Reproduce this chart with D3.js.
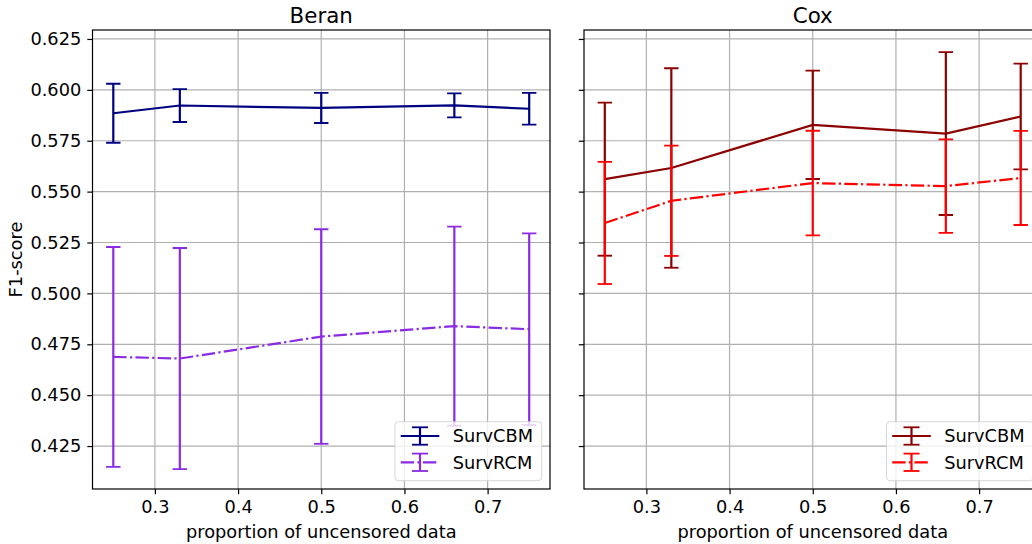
<!DOCTYPE html>
<html><head><meta charset="utf-8">
<script src="https://cdn.jsdelivr.net/npm/d3@7"></script>
<style>body{margin:0;background:#fff}svg{display:block;font-family:"DejaVu Sans",sans-serif}</style>
</head><body><svg id="c" width="1032" height="544"></svg>
<script>
// ---- data ----
const proportions = [0.25, 0.33, 0.5, 0.66, 0.75];
const beranCBM    = [0.5885, 0.5923, 0.5911, 0.5924, 0.5907];
const beranCBMErr = [0.0145, 0.0081, 0.0074, 0.0059, 0.0078];
const beranRCM    = [0.4688, 0.4680, 0.4788, 0.4839, 0.4824];
const beranRCMErr = [0.0540, 0.0543, 0.0527, 0.0489, 0.0471];
const coxCBM      = [0.5561, 0.5616, 0.5828, 0.5785, 0.5869];
const coxCBMErr   = [0.0376, 0.0490, 0.0266, 0.0400, 0.0260];
const coxRCM      = [0.5346, 0.5455, 0.5542, 0.5527, 0.5567];
const coxRCMErr   = [0.0300, 0.0271, 0.0257, 0.0230, 0.0231];
const xTicks = [0.3, 0.4, 0.5, 0.6, 0.7];
const yTicks = [0.425, 0.450, 0.475, 0.500, 0.525, 0.550, 0.575, 0.600, 0.625];
const panelTitles = ["Beran", "Cox"];
const seriesNames = ["SurvCBM", "SurvRCM"];
const xLabel = "proportion of uncensored data";
const yLabel = "F1-score";

// ---- layout / style ----
const svg = d3.select("#c");
const plotTop = 30, plotBottom = 489;
const dashDot = "13.4,3.3,2.2,3.3";
const panels = [
  {x0: 92.5, x1: 550, title: panelTitles[0], labels: true,
   series: [{name: seriesNames[0], m: beranCBM, e: beranCBMErr, color: "#000080", dash: null},
            {name: seriesNames[1], m: beranRCM, e: beranRCMErr, color: "#8a2be2", dash: dashDot}]},
  {x0: 584, x1: 1041.5, title: panelTitles[1], labels: false,
   series: [{name: seriesNames[0], m: coxCBM, e: coxCBMErr, color: "#8b0000", dash: null},
            {name: seriesNames[1], m: coxRCM, e: coxRCMErr, color: "#ff0000", dash: dashDot}]}
];
const yDomain = [0.4039, 0.6294];
const xDomain = [0.225, 0.775];
const y = d3.scaleLinear().domain(yDomain).range([plotBottom, plotTop]);
const cap = 7.2;
const tickFont = 17.8, labelFont = 17.8, titleFont = 21.4;

panels.forEach((p, pi) => {
  const x = d3.scaleLinear().domain(xDomain).range([p.x0, p.x1]);
  const g = svg.append("g");
  const clipId = "clip" + pi;
  svg.append("clipPath").attr("id", clipId).append("rect")
    .attr("x", p.x0).attr("y", plotTop).attr("width", p.x1 - p.x0).attr("height", plotBottom - plotTop);

  // grid
  g.append("g").selectAll("line").data(xTicks).join("line")
    .attr("x1", d => x(d)).attr("x2", d => x(d)).attr("y1", plotTop).attr("y2", plotBottom)
    .attr("stroke", "#b0b0b0").attr("stroke-width", 1.2);
  g.append("g").selectAll("line").data(yTicks).join("line")
    .attr("x1", p.x0).attr("x2", p.x1).attr("y1", d => y(d)).attr("y2", d => y(d))
    .attr("stroke", "#b0b0b0").attr("stroke-width", 1.2);

  // data
  const dg = g.append("g").attr("clip-path", `url(#${clipId})`);
  p.series.forEach(s => {
    const pts = proportions.map((v, i) => ({x: v, m: s.m[i], e: s.e[i]}));
    dg.append("path").datum(pts)
      .attr("d", d3.line().x(d => x(d.x)).y(d => y(d.m)))
      .attr("fill", "none").attr("stroke", s.color).attr("stroke-width", 2.2)
      .attr("stroke-dasharray", s.dash);
    const eb = dg.append("g").attr("stroke", s.color);
    eb.selectAll("line.bar").data(pts).join("line").attr("class", "bar")
      .attr("x1", d => x(d.x)).attr("x2", d => x(d.x))
      .attr("y1", d => y(d.m - d.e)).attr("y2", d => y(d.m + d.e)).attr("stroke-width", 2.2);
    eb.selectAll("line.capt").data(pts).join("line").attr("class", "capt")
      .attr("x1", d => x(d.x) - cap).attr("x2", d => x(d.x) + cap)
      .attr("y1", d => y(d.m + d.e)).attr("y2", d => y(d.m + d.e)).attr("stroke-width", 1.8);
    eb.selectAll("line.capb").data(pts).join("line").attr("class", "capb")
      .attr("x1", d => x(d.x) - cap).attr("x2", d => x(d.x) + cap)
      .attr("y1", d => y(d.m - d.e)).attr("y2", d => y(d.m - d.e)).attr("stroke-width", 1.8);
  });

  // axes
  const xa = g.append("g").attr("transform", `translate(0,${plotBottom})`)
    .call(d3.axisBottom(x).tickValues(xTicks).tickFormat(d3.format(".1f")).tickSize(5.2).tickPadding(6.5));
  xa.select(".domain").remove();
  xa.selectAll("line").attr("stroke", "#000").attr("stroke-width", 1.2);
  xa.selectAll("text").attr("font-size", tickFont).attr("fill", "#000").attr("font-family", "DejaVu Sans");
  const ya = g.append("g").attr("transform", `translate(${p.x0},0)`)
    .call(d3.axisLeft(y).tickValues(yTicks).tickFormat(p.labels ? d3.format(".3f") : "").tickSize(5.2).tickPadding(6));
  ya.select(".domain").remove();
  ya.selectAll("line").attr("stroke", "#000").attr("stroke-width", 1.2);
  ya.selectAll("text").attr("font-size", tickFont).attr("fill", "#000").attr("font-family", "DejaVu Sans");

  // frame
  g.append("rect").attr("x", p.x0).attr("y", plotTop).attr("width", p.x1 - p.x0).attr("height", plotBottom - plotTop)
    .attr("fill", "none").attr("stroke", "#000").attr("stroke-width", 1.2);

  // title & x label
  g.append("text").attr("x", (p.x0 + p.x1) / 2).attr("y", 22.7).attr("text-anchor", "middle")
    .attr("font-size", titleFont).attr("fill", "#000").text(p.title);
  g.append("text").attr("x", (p.x0 + p.x1) / 2).attr("y", 537.5).attr("text-anchor", "middle")
    .attr("font-size", labelFont).attr("fill", "#000").text(xLabel);

  // legend
  const lw = 146.7, lh = 59, lx = p.x1 - 8.3 - lw, ly = 421.7;
  const lg = g.append("g");
  lg.append("rect").attr("x", lx).attr("y", ly).attr("width", lw).attr("height", lh).attr("rx", 3.5)
    .attr("fill", "#fff").attr("fill-opacity", 0.8).attr("stroke", "#cccccc").attr("stroke-opacity", 0.8);
  p.series.forEach((s, i) => {
    const cy = ly + 14.3 + i * 26.3;
    const hx0 = lx + 5.7, hx1 = lx + 44.3, hc = (hx0 + hx1) / 2;
    lg.append("line").attr("x1", hx0).attr("x2", hx1).attr("y1", cy).attr("y2", cy)
      .attr("stroke", s.color).attr("stroke-width", 2.2).attr("stroke-dasharray", s.dash);
    lg.append("line").attr("x1", hc).attr("x2", hc).attr("y1", cy - 8.7).attr("y2", cy + 8.7)
      .attr("stroke", s.color).attr("stroke-width", 2.2);
    [cy - 8.7, cy + 8.7].forEach(cyy => lg.append("line")
      .attr("x1", hc - 8).attr("x2", hc + 8).attr("y1", cyy).attr("y2", cyy)
      .attr("stroke", s.color).attr("stroke-width", 1.8));
    lg.append("text").attr("x", lx + 57.7).attr("y", cy + 6.3).attr("font-size", tickFont).attr("fill", "#000")
      .text(s.name);
  });
});

// y label
svg.append("text").attr("transform", `translate(22,259.5) rotate(-90)`).attr("text-anchor", "middle")
  .attr("font-size", labelFont).attr("fill", "#000").text(yLabel);
</script></body></html>
